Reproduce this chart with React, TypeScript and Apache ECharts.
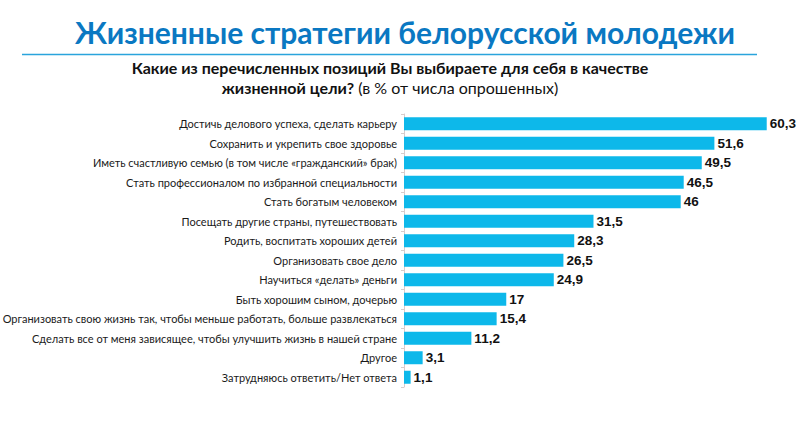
import React, { useEffect, useRef } from "react";
import * as echarts from "echarts";

const categories: string[] = [
  "Достичь делового успеха, сделать карьеру",
  "Сохранить и укрепить свое здоровье",
  "Иметь счастливую семью (в том числе «гражданский» брак)",
  "Стать профессионалом по избранной специальности",
  "Стать богатым человеком",
  "Посещать другие страны, путешествовать",
  "Родить, воспитать хороших детей",
  "Организовать свое дело",
  "Научиться «делать» деньги",
  "Быть хорошим сыном, дочерью",
  "Организовать свою жизнь так, чтобы меньше работать, больше развлекаться",
  "Сделать все от меня зависящее, чтобы улучшить жизнь в нашей стране",
  "Другое",
  "Затрудняюсь ответить/Нет ответа",
];

const values: number[] = [60.3, 51.6, 49.5, 46.5, 46, 31.5, 28.3, 26.5, 24.9, 17, 15.4, 11.2, 3.1, 1.1];

const titleText = "Жизненные стратегии белорусской молодежи";
const subtitleLine1 = "Какие из перечисленных позиций Вы выбираете для себя в качестве";
const subtitleBold = "жизненной цели?";
const subtitleNormal = " (в % от числа опрошенных)";

const fmt = (v: number) => String(v).replace(".", ",");

export default function App() {
  const ref = useRef<HTMLDivElement>(null);

  useEffect(() => {
    if (!ref.current) return;
    const chart = echarts.init(ref.current, null, { renderer: "svg" });
    chart.setOption({
      animation: false,
      backgroundColor: "#ffffff",
      grid: {
        left: 404,
        right: 5,
        top: 114,
        height: 273,
        containLabel: false,
        outerBoundsMode: "none",
      },
      xAxis: {
        type: "value",
        min: 0,
        max: 65,
        show: false,
      },
      yAxis: {
        type: "category",
        data: categories,
        inverse: true,
        axisLine: { show: true, lineStyle: { color: "#d8cccc", width: 1 } },
        axisTick: { show: true, length: 3, lineStyle: { color: "#d8cccc" } },
        axisLabel: {
          margin: 7,
          fontFamily: "Lato",
          fontSize: 11,
          color: "#1a1a1a",
        },
        splitLine: { show: false },
      },
      series: [
        {
          type: "bar",
          data: values,
          barWidth: 13,
          itemStyle: { color: "#0db8ea" },
          label: {
            show: true,
            position: "right",
            distance: 3,
            fontFamily: "Liberation Sans",
            fontWeight: "bold",
            fontSize: 13.5,
            color: "#111111",
            formatter: (p: any) => fmt(p.value),
          },
        },
      ],
      graphic: [
        {
          type: "text",
          x: 405,
          y: 32,
          style: {
            text: titleText,
            fontFamily: "Lato",
            fontWeight: "bold",
            fontSize: 30,
            fill: "#0a78c2",
            align: "center",
            verticalAlign: "middle",
          },
        },
        {
          type: "line",
          shape: { x1: 22, y1: 54.5, x2: 757, y2: 54.5 },
          style: { stroke: "#2aa4dc", lineWidth: 1.5 },
        },
        {
          type: "text",
          x: 390,
          y: 67,
          style: {
            text: subtitleLine1,
            fontFamily: "Lato",
            fontWeight: "bold",
            fontSize: 16,
            fill: "#111111",
            align: "center",
            verticalAlign: "middle",
          },
        },
        {
          type: "text",
          x: 390,
          y: 87,
          style: {
            text: `{b|${subtitleBold}}{n|${subtitleNormal}}`,
            align: "center",
            verticalAlign: "middle",
            rich: {
              b: { fontFamily: "Lato", fontWeight: "bold", fontSize: 16, fill: "#111111" },
              n: { fontFamily: "Lato", fontWeight: "normal", fontSize: 16, fill: "#111111" },
            },
          },
        },
      ],
    });
    return () => chart.dispose();
  }, []);

  return (
    <div
      ref={ref}
      style={{ position: "fixed", left: 0, top: 0, width: 800, height: 426 }}
    />
  );
}
